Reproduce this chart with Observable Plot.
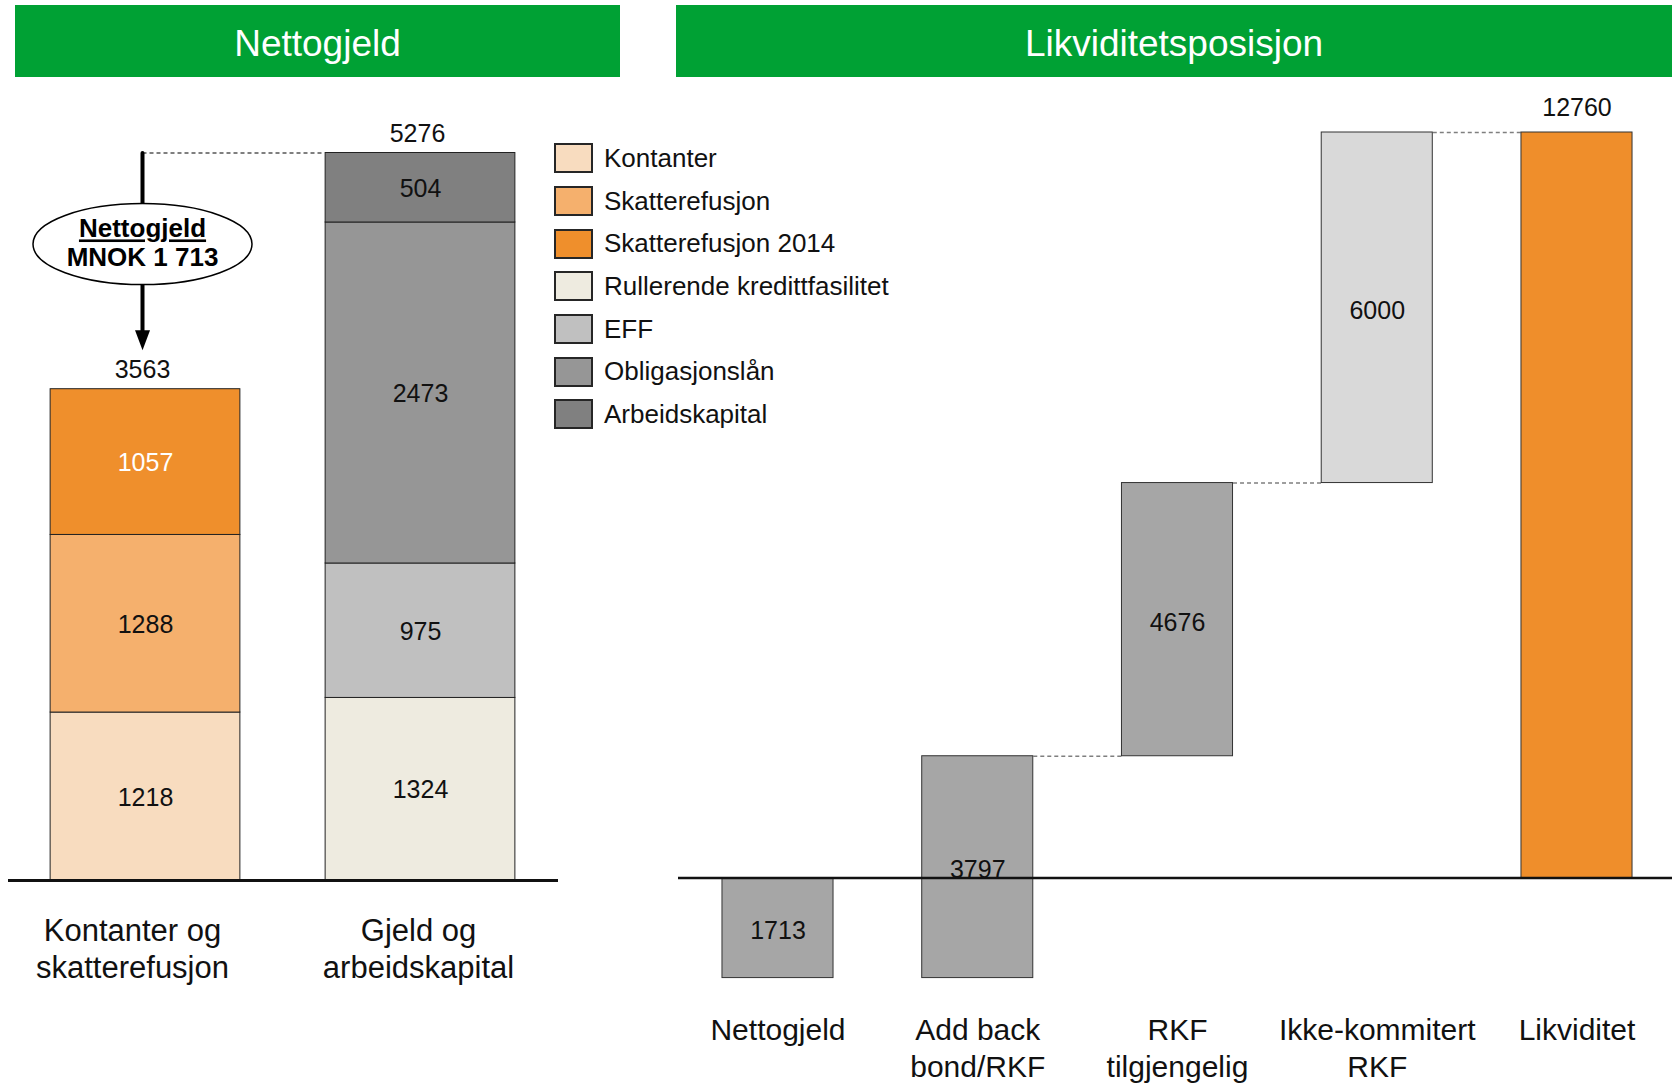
<!DOCTYPE html>
<html><head><meta charset="utf-8">
<script src="https://cdn.jsdelivr.net/npm/d3@7"></script>
<script src="https://cdn.jsdelivr.net/npm/@observablehq/plot@0.6"></script>
<style>
body{margin:0;background:#fff;font-family:"Liberation Sans",Arial,sans-serif;}
#wrap{position:relative;width:1672px;height:1084px;overflow:hidden;background:#fff;}
.hdr{position:absolute;top:5px;height:72px;box-sizing:border-box;padding-top:6px;background:#00A134;color:#fff;font-size:37px;display:flex;align-items:center;justify-content:center;}
#leftChart{position:absolute;left:0;top:80px;}
#rightChart{position:absolute;left:620px;top:80px;}
#legend{position:absolute;left:554px;top:137px;z-index:5;}
.row{display:flex;align-items:center;height:42.7px;}
.sw{box-sizing:border-box;width:39px;height:30px;border:2px solid #262626;}
.lt{margin-left:11px;font-size:26px;color:#111;white-space:nowrap;}
</style></head>
<body><div id="wrap">
<div class="hdr" style="left:15px;width:605px;">Nettogjeld</div>
<div class="hdr" style="left:676px;width:996px;">Likviditetsposisjon</div>
<div id="leftChart"></div>
<div id="rightChart"></div>
<div id="legend"></div>
</div>
<script>
// ---------- data: left (Nettogjeld) ----------
const leftCats = ["Kontanter og\nskatterefusjon", "Gjeld og\narbeidskapital"];
const seriesNames = ["Kontanter","Skatterefusjon","Skatterefusjon 2014","Rullerende kredittfasilitet","EFF","Obligasjonslån","Arbeidskapital"];
const seriesBar = [0,0,0,1,1,1,1];
const seriesValues = [1218,1288,1057,1324,975,2473,504];
const leftTotals = [3563, 5276];
const nettogjeldValue = 1713;
const seriesColors = ["#F8DCBF","#F5B06D","#EF8F2C","#EEEBE0","#C0C0C0","#969696","#808080"];

// ---------- data: right (Likviditetsposisjon) ----------
const waterCats = ["Nettogjeld", "Add back\nbond/RKF", "RKF\ntilgjengelig", "Ikke-kommitert\nRKF", "Likviditet"];
const waterValues = [-1713, 3797, 4676, 6000, 12760];
const waterIsTotal = [false, false, false, false, true];
const waterColors = ["#A6A6A6","#A6A6A6","#A6A6A6","#D9D9D9","#EF8E2B"];

const FONT = "'Liberation Sans', Arial, sans-serif";

// build stacked table (left)
const cum = [0, 0];
const leftTable = seriesNames.map((s, i) => {
  const b = seriesBar[i];
  const y1 = cum[b];
  cum[b] += seriesValues[i];
  return {series: s, bar: b, value: seriesValues[i], y1, y2: cum[b]};
});
const hwL = 0.345;

const ellipseSymbol = {draw(ctx){
  const rx = 109.5, ry = 40.5, k = 0.5523;
  ctx.moveTo(rx, 0);
  ctx.bezierCurveTo(rx, ry*k, rx*k, ry, 0, ry);
  ctx.bezierCurveTo(-rx*k, ry, -rx, ry*k, -rx, 0);
  ctx.bezierCurveTo(-rx, -ry*k, -rx*k, -ry, 0, -ry);
  ctx.bezierCurveTo(rx*k, -ry, rx, -ry*k, rx, 0);
  ctx.closePath();
}};
const triSymbol = {draw(ctx){
  ctx.moveTo(-7.5, -10); ctx.lineTo(7.5, -10); ctx.lineTo(0, 10); ctx.closePath();
}};

const midTotal = (leftTotals[0] + leftTotals[1]) / 2;
const mnokText = "MNOK " + d3.format(",")(nettogjeldValue).replace(/,/g, " ");

const left = Plot.plot({
  width: 620, height: 1004,
  marginLeft: 8, marginRight: 62, marginTop: 0, marginBottom: 0,
  x: {domain: [0, 1], range: [145, 420], axis: null},
  y: {domain: [0, d3.max(leftTotals)], range: [800, 72.5], axis: null},
  color: {domain: seriesNames, range: seriesColors},
  style: {background: "transparent", fontFamily: FONT, overflow: "visible"},
  marks: [
    Plot.link([0], {x1: () => 0, x2: () => 1 - hwL, y1: () => leftTotals[1], y2: () => leftTotals[1],
      dx: -3, stroke: "#555", strokeWidth: 1.5, strokeDasharray: "4,3"}),
    Plot.rectY(leftTable, {x1: d => d.bar - hwL, x2: d => d.bar + hwL, y1: "y1", y2: "y2",
      fill: "series", stroke: "#222", strokeWidth: 1}),
    Plot.ruleY([0], {stroke: "#111", strokeWidth: 3}),
    Plot.text(leftTable.filter(d => d.series !== "Skatterefusjon 2014"), {x: "bar", y: d => (d.y1 + d.y2) / 2,
      text: d => String(d.value), dy: 1, fontSize: 25, fill: "#111"}),
    Plot.text(leftTable.filter(d => d.series === "Skatterefusjon 2014"), {x: "bar", y: d => (d.y1 + d.y2) / 2,
      text: d => String(d.value), dy: 1, fontSize: 25, fill: "white"}),
    Plot.text(leftTotals, {x: (d, i) => i, y: d => d, text: d => String(d), dy: -19, dx: -3, fontSize: 25, fill: "#111"}),
    Plot.arrow([0], {x1: () => 0, x2: () => 0, y1: () => leftTotals[1], y2: () => leftTotals[0],
      dx: -3, insetEnd: 57, headLength: 0, stroke: "black", strokeWidth: 4}),
    Plot.dot([0], {x: () => 0, y: () => leftTotals[0], dx: -3, dy: -49, symbol: triSymbol, fill: "black", stroke: "none"}),
    Plot.dot([0], {x: () => 0, y: () => midTotal, dx: -3, dy: -27, symbol: ellipseSymbol, fill: "white", stroke: "black", strokeWidth: 1.5}),
    Plot.text(["Nettogjeld"], {x: () => 0, y: () => midTotal, dx: -3, dy: -42, text: d => d, fontSize: 26, fontWeight: "bold", fill: "black"}),
    Plot.text([mnokText], {x: () => 0, y: () => midTotal, dx: -3, dy: -13, text: d => d, fontSize: 26, fontWeight: "bold", fill: "black"}),
    Plot.text(leftCats.slice(0, 1), {x: () => 0, y: () => 0, text: d => d, lineAnchor: "top", dx: -13, dy: 34, fontSize: 31, lineHeight: 1.19, fill: "#111"}),
    Plot.text(leftCats.slice(1), {x: () => 1, y: () => 0, text: d => d, lineAnchor: "top", dx: -2, dy: 34, fontSize: 31, lineHeight: 1.19, fill: "#111"})
  ]
});
d3.select(left).selectAll("text").filter(function(){ return this.textContent === "Nettogjeld"; })
  .style("text-decoration", "underline");
document.getElementById("leftChart").appendChild(left);

// waterfall table
let run = 0;
const waterTable = waterCats.map((c, i) => {
  let start, end;
  if (waterIsTotal[i]) { start = 0; end = waterValues[i]; }
  else { start = run; end = run + waterValues[i]; run = end; }
  return {cat: c, i, value: waterValues[i], start, end, color: waterColors[i], total: waterIsTotal[i]};
});
const hwR = 0.278;

const right = Plot.plot({
  width: 1052, height: 1004,
  marginLeft: 58, marginRight: 0, marginTop: 0, marginBottom: 0,
  x: {domain: [0, waterCats.length - 1], range: [157.5, 956.5], axis: null},
  y: {domain: [0, d3.max(waterTable, d => d.end)], range: [797.5, 52], axis: null},
  color: {type: "identity"},
  style: {background: "transparent", fontFamily: FONT, overflow: "visible"},
  marks: [
    Plot.link(waterTable.slice(1, waterTable.length - 1), {x1: d => d.i + hwR, x2: d => d.i + 1 - hwR, y1: "end", y2: "end",
      stroke: "#7f7f7f", strokeWidth: 1.5, strokeDasharray: "4,3"}),
    Plot.rectY(waterTable, {x1: d => d.i - hwR, x2: d => d.i + hwR, y1: "start", y2: "end",
      fill: "color", stroke: "#333", strokeWidth: 1}),
    Plot.ruleY([0], {stroke: "#111", strokeWidth: 2.5}),
    Plot.text(waterTable.filter(d => !d.total), {x: "i", y: d => (d.start + d.end) / 2, text: d => String(Math.abs(d.value)), dy: 3, fontSize: 25, fill: "#111"}),
    Plot.text(waterTable.filter(d => d.total), {x: "i", y: "end", text: d => String(d.value), dy: -25, fontSize: 25, fill: "#111"}),
    Plot.text(waterTable, {x: "i", y: () => 0, text: "cat", lineAnchor: "top", dy: 136, fontSize: 30, lineHeight: 1.23, fill: "#111"})
  ]
});
document.getElementById("rightChart").appendChild(right);

// legend (HTML)
const lg = d3.select("#legend");
seriesNames.forEach((s, i) => {
  const r = lg.append("div").attr("class", "row");
  r.append("div").attr("class", "sw").style("background", seriesColors[i]);
  r.append("div").attr("class", "lt").text(s);
});
</script>
</body></html>
